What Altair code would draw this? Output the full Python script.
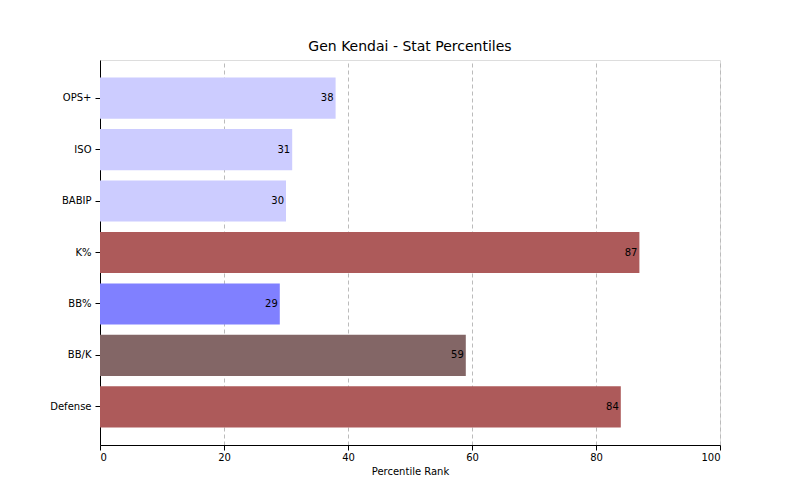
import altair as alt
import pandas as pd

stats = ["OPS+", "ISO", "BABIP", "K%", "BB%", "BB/K", "Defense"]
values = [38, 31, 30, 87, 29, 59, 84]
colors = ["#ccccff", "#ccccff", "#ccccff", "#ad5a5a", "#8080ff", "#836666", "#ad5a5a"]

df = pd.DataFrame({"stat": stats, "value": values, "color": colors})

y = alt.Y("stat:N", sort=stats, title=None,
          scale=alt.Scale(paddingInner=0.2, paddingOuter=0.34),
          axis=alt.Axis(labelFontSize=10, labelColor="black", tickColor="black",
                        domainColor="black", labelPadding=4, grid=False))
x = alt.X("value:Q", title="Percentile Rank",
          scale=alt.Scale(domain=[0, 100], nice=False),
          axis=alt.Axis(values=[0, 20, 40, 60, 80, 100], labelFontSize=10, labelColor="black",
                        titleFontSize=10, titleFontWeight="normal", titleColor="black",
                        tickColor="black", domainColor="black",
                        gridDash=[4, 3], gridColor="#bbbbbb", gridOpacity=1))

bars = alt.Chart(df).mark_bar().encode(x=x, y=y, color=alt.Color("color:N", scale=None))
labels = alt.Chart(df).mark_text(align="right", dx=-2, fontSize=10, color="black").encode(
    x="value:Q", y=alt.Y("stat:N", sort=stats), text="value:Q")

chart = (bars + labels).properties(
    width=620, height=385,
    title=alt.TitleParams("Gen Kendai - Stat Percentiles", fontSize=14, fontWeight="normal",
                          font="DejaVu Sans", color="black", offset=6),
    autosize=alt.AutoSizeParams(type="none"),
    padding={"left": 92, "top": 52, "right": 72, "bottom": 47},
).configure_view(stroke="black", strokeWidth=1).configure(font="DejaVu Sans")

chart.save("out.html", embed_options={"renderer": "svg", "actions": False})
